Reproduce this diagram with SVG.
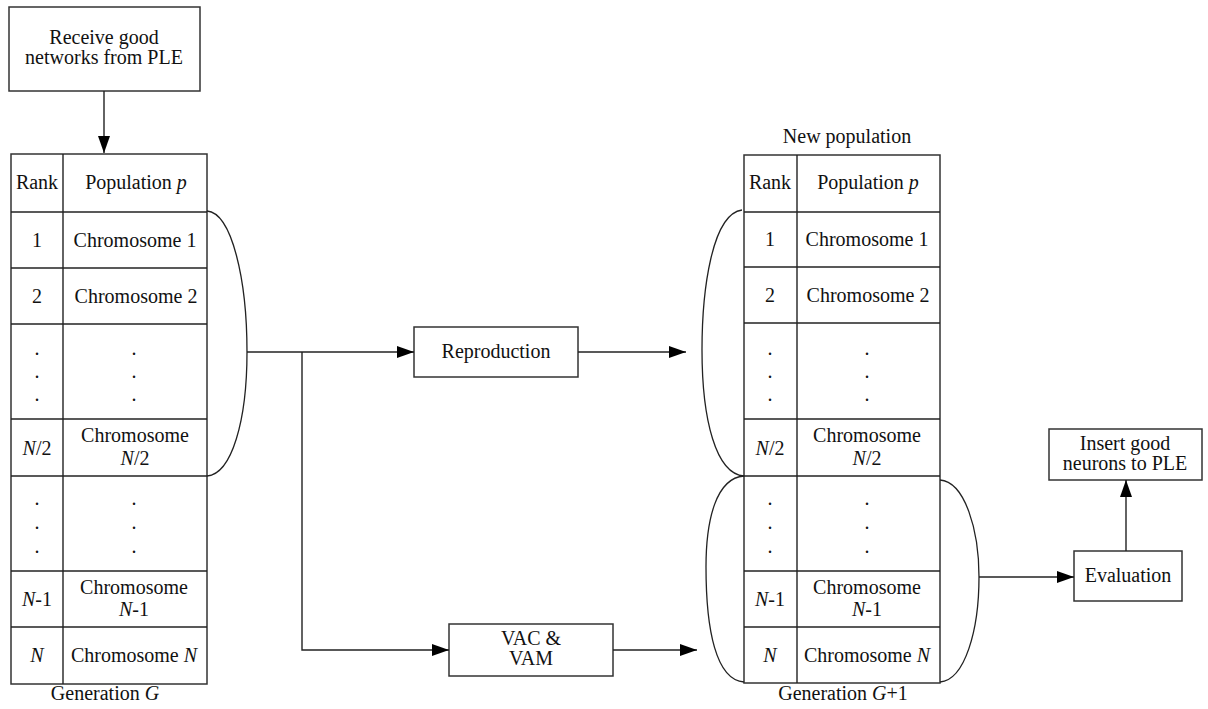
<svg xmlns="http://www.w3.org/2000/svg" width="1208" height="709" viewBox="0 0 1208 709">
<style>
text{font-family:"Liberation Serif","Times New Roman",serif;font-size:20px;fill:#111;text-anchor:middle}
.i{font-style:italic}
.box{fill:#fff;stroke:#333;stroke-width:1.5}
.ln{fill:none;stroke:#222;stroke-width:1.4}
.br{fill:none;stroke:#222;stroke-width:1.3}
</style>
<defs>
<marker id="ah" markerUnits="userSpaceOnUse" markerWidth="17" markerHeight="12" refX="17" refY="6" orient="auto">
<path d="M0,0 L17,6 L0,12 z" fill="#000"/>
</marker>
</defs>
<rect width="1208" height="709" fill="#fff"/>

<g id="receive">
<rect class="box" x="9" y="7" width="191" height="84"/>
<text x="104" y="44">Receive good</text>
<text x="104" y="64">networks from PLE</text>
</g>

<g id="table-left">
<rect class="box" x="11" y="154" width="196" height="530"/>
<line class="ln" x1="63" y1="154" x2="63" y2="684"/>
<line class="ln" x1="11" y1="212" x2="207" y2="212"/>
<line class="ln" x1="11" y1="268" x2="207" y2="268"/>
<line class="ln" x1="11" y1="324" x2="207" y2="324"/>
<line class="ln" x1="11" y1="419" x2="207" y2="419"/>
<line class="ln" x1="11" y1="476" x2="207" y2="476"/>
<line class="ln" x1="11" y1="571" x2="207" y2="571"/>
<line class="ln" x1="11" y1="627" x2="207" y2="627"/>
<text x="37" y="189">Rank</text>
<text x="136" y="189">Population <tspan class="i">p</tspan></text>
<text x="37" y="247">1</text>
<text x="135" y="247">Chromosome 1</text>
<text x="37" y="303">2</text>
<text x="136" y="303">Chromosome 2</text>
<text x="37" y="355">.</text><text x="37" y="378">.</text><text x="37" y="401">.</text>
<text x="134" y="355">.</text><text x="134" y="378">.</text><text x="134" y="401">.</text>
<text x="37" y="455"><tspan class="i">N</tspan>/2</text>
<text x="135" y="442">Chromosome</text>
<text x="135" y="465"><tspan class="i">N</tspan>/2</text>
<text x="37" y="505">.</text><text x="37" y="529">.</text><text x="37" y="553">.</text>
<text x="134" y="505">.</text><text x="134" y="529">.</text><text x="134" y="553">.</text>
<text x="37" y="606"><tspan class="i">N</tspan>-1</text>
<text x="134" y="594">Chromosome</text>
<text x="134" y="616"><tspan class="i">N</tspan>-1</text>
<text x="37" y="662" class="i">N</text>
<text x="134" y="662">Chromosome <tspan class="i">N</tspan></text>
<text x="105" y="700">Generation <tspan class="i">G</tspan></text>
</g>

<g id="reproduction">
<rect class="box" x="414" y="327" width="164" height="50"/>
<text x="496" y="358">Reproduction</text>
</g>

<g id="vac-vam">
<rect class="box" x="449" y="624" width="164" height="52"/>
<text x="531" y="645">VAC &amp;</text>
<text x="531" y="665">VAM</text>
</g>

<g id="table-right">
<text x="847" y="143">New population</text>
<rect class="box" x="744" y="155" width="196" height="528"/>
<line class="ln" x1="797" y1="155" x2="797" y2="683"/>
<line class="ln" x1="744" y1="212" x2="940" y2="212"/>
<line class="ln" x1="744" y1="267" x2="940" y2="267"/>
<line class="ln" x1="744" y1="323" x2="940" y2="323"/>
<line class="ln" x1="744" y1="419" x2="940" y2="419"/>
<line class="ln" x1="744" y1="476" x2="940" y2="476"/>
<line class="ln" x1="744" y1="571" x2="940" y2="571"/>
<line class="ln" x1="744" y1="627" x2="940" y2="627"/>
<text x="770" y="189">Rank</text>
<text x="868" y="189">Population <tspan class="i">p</tspan></text>
<text x="770" y="246">1</text>
<text x="867" y="246">Chromosome 1</text>
<text x="770" y="302">2</text>
<text x="868" y="302">Chromosome 2</text>
<text x="770" y="355">.</text><text x="770" y="378">.</text><text x="770" y="401">.</text>
<text x="867" y="355">.</text><text x="867" y="378">.</text><text x="867" y="401">.</text>
<text x="770" y="455"><tspan class="i">N</tspan>/2</text>
<text x="867" y="442">Chromosome</text>
<text x="867" y="465"><tspan class="i">N</tspan>/2</text>
<text x="770" y="505">.</text><text x="770" y="529">.</text><text x="770" y="553">.</text>
<text x="867" y="505">.</text><text x="867" y="529">.</text><text x="867" y="553">.</text>
<text x="770" y="606"><tspan class="i">N</tspan>-1</text>
<text x="867" y="594">Chromosome</text>
<text x="867" y="616"><tspan class="i">N</tspan>-1</text>
<text x="770" y="662" class="i">N</text>
<text x="867" y="662">Chromosome <tspan class="i">N</tspan></text>
<text x="843" y="700">Generation <tspan class="i">G</tspan>+1</text>
</g>

<g id="evaluation">
<rect class="box" x="1074" y="551" width="108" height="50"/>
<text x="1128" y="582">Evaluation</text>
</g>

<g id="insert">
<rect class="box" x="1049" y="429" width="153" height="51"/>
<text x="1125" y="450">Insert good</text>
<text x="1125" y="470">neurons to PLE</text>
</g>

<g id="connectors">
<path class="br" d="M207,211 C232,213 247,280 247,352 C247,420 232,474 207,476"/>
<path class="br" d="M742,210 C712,214 702,290 702,350 C702,420 716,474 744,476"/>
<path class="br" d="M744,476 C716,478 706,520 706,567 C706,630 716,680 744,682"/>
<path class="br" d="M940,480 C965,482 979,530 979,577 C979,630 965,680 940,682"/>
<line class="ln" x1="104" y1="91" x2="104" y2="153" marker-end="url(#ah)"/>
<line class="ln" x1="247" y1="352" x2="414" y2="352" marker-end="url(#ah)"/>
<polyline class="ln" points="302,352 302,650 449,650" marker-end="url(#ah)"/>
<line class="ln" x1="578" y1="352" x2="686" y2="352" marker-end="url(#ah)"/>
<line class="ln" x1="613" y1="650" x2="697" y2="650" marker-end="url(#ah)"/>
<line class="ln" x1="979" y1="577" x2="1074" y2="577" marker-end="url(#ah)"/>
<line class="ln" x1="1126" y1="551" x2="1126" y2="480" marker-end="url(#ah)"/>
</g>
</svg>
